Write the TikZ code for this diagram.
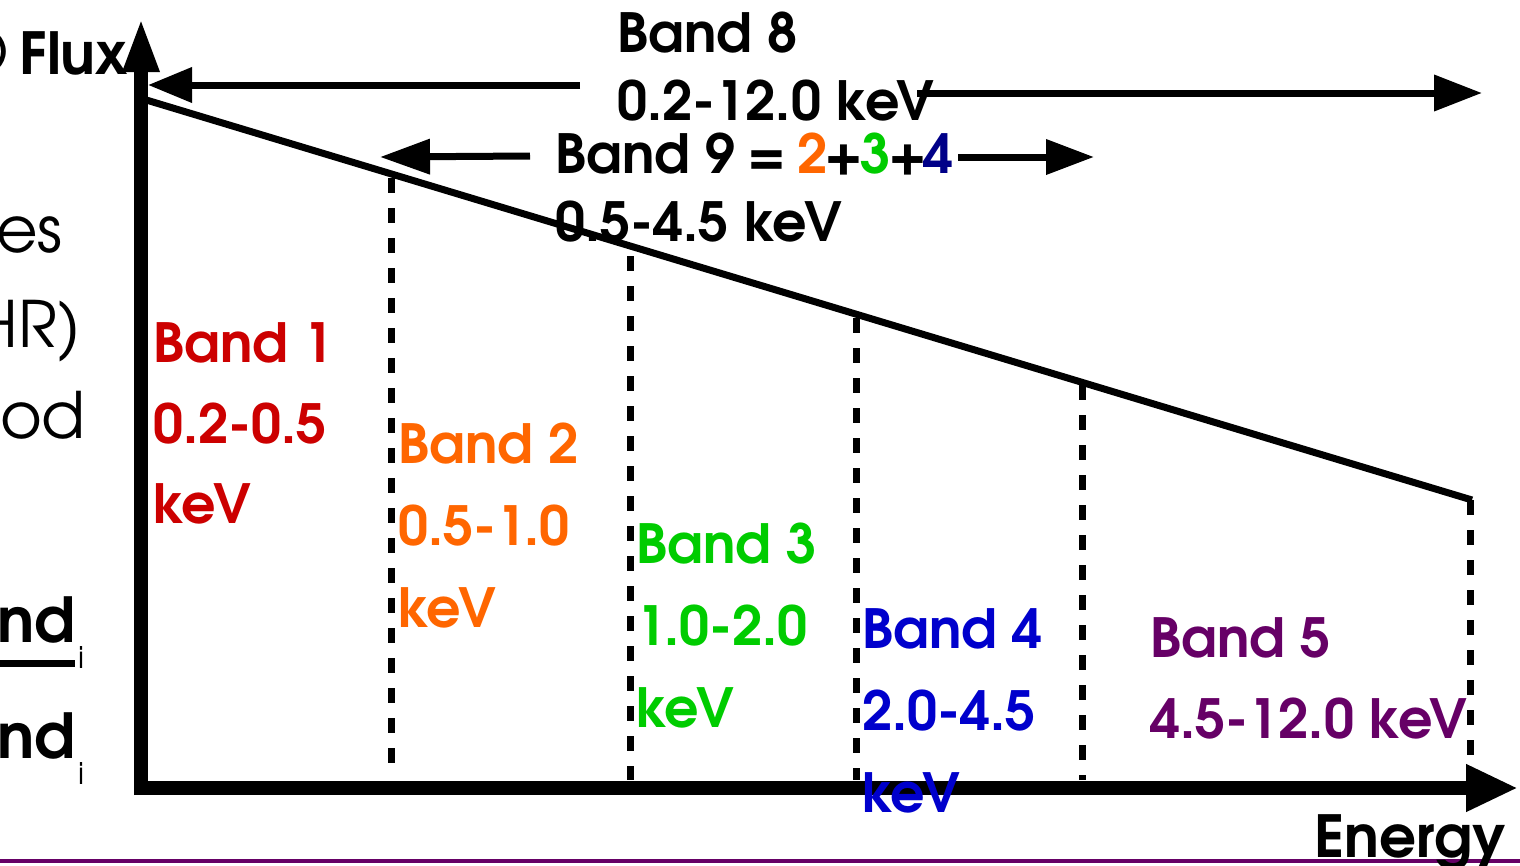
\documentclass[tikz,border=0pt]{standalone}
\usepackage{fontspec}
\setmainfont{TeX Gyre Adventor}
\usetikzlibrary{arrows.meta}
\definecolor{bred}{RGB}{204,0,0}
\definecolor{borange}{RGB}{255,102,0}
\definecolor{bgreen}{RGB}{0,204,0}
\definecolor{bblue}{RGB}{0,0,204}
\definecolor{bnavy}{RGB}{0,0,136}
\definecolor{bpurple}{RGB}{102,0,102}
\tikzset{
  lbl/.style={font=\bfseries\fontsize{54}{60}\selectfont, inner sep=0pt, anchor=base west},
  biglbl/.style={font=\bfseries\fontsize{58}{60}\selectfont, inner sep=0pt, anchor=base west},
  side/.style={font=\fontsize{64}{70}\selectfont, inner sep=0pt, anchor=base east},
  sidebold/.style={font=\bfseries\fontsize{62}{64}\selectfont, inner sep=0pt, anchor=base east},
  subi/.style={font=\fontsize{30}{32}\selectfont, inner sep=0pt, anchor=base west},
  axis/.style={line width=14pt},
  spec/.style={line width=7pt},
  divider/.style={line width=7pt, dash pattern=on 15pt off 15pt},
  rng/.style={line width=7pt},
}
\begin{document}
\begin{tikzpicture}[x=1pt,y=-1pt]
\clip (0,0) rectangle (1520,865);
\fill[white] (0,0) rectangle (1520,865);
% bottom purple rule
\draw[bpurple, line width=4pt] (0,861) -- (1520,861);
% side fragments
\node[side] (o) at (9,75) {O};
\node[biglbl] (flux) at (19,74) {Flux};
\node[side] (es) at (63,252) {es};
\node[side] (hr) at (81,347) {HR)};
\node[side] (od) at (86,438) {od};
\node[sidebold] (nd1) at (76,642) {nd};
\node[subi] (i1) at (78,668) {i};
\draw[line width=7pt] (0,663) -- (75,663);
\node[sidebold] (nd2) at (76,758) {nd};
\node[subi] (i2) at (78,784) {i};
% coordinates
\coordinate (o1) at (141,795);
\coordinate (ytip) at (141,17);
\coordinate (xo) at (134,788);
\coordinate (xtip) at (1518,788);
\coordinate (s0) at (143,99);
\coordinate (s5) at (1472,500);
% dividers
\coordinate (d1t) at (391,178);
\coordinate (d1b) at (391,770);
\coordinate (d2t) at (630,256);
\coordinate (d2b) at (630,780);
\coordinate (d3t) at (856,318);
\coordinate (d3b) at (856,780);
\coordinate (d4t) at (1082,385);
\coordinate (d4b) at (1082,780);
\coordinate (d5t) at (1470,500);
\coordinate (d5b) at (1470,780);
\foreach \n in {1,...,5} \draw[divider] (d\n t) -- (d\n b);
% spectrum line
\draw[spec] (s0) -- (s5);
% axes
\draw[axis, -{Triangle[length=55pt,width=33pt]}] (o1) -- (ytip);
\draw[axis, -{Triangle[length=52pt,width=44pt]}] (xo) -- (xtip);
% Band 8
\node[lbl] (b8) at (617,52) {Band 8};
\node[lbl] (b8r) at (617,120) {0.2-12.0 keV};
\coordinate (b8ls) at (580,85);
\coordinate (b8le) at (148,85);
\coordinate (b8rs) at (917,93);
\coordinate (b8re) at (1482,93);
\draw[rng, -{Triangle[length=44pt,width=34pt]}] (b8ls) -- (b8le);
\draw[rng, -{Triangle[length=48pt,width=35pt]}] (b8rs) -- (b8re);
% Band 9
\node[lbl] (b9) at (555,173) {Band 9\kern-3pt{} =\kern-4pt{} \textcolor{borange}{2}\kern-3pt+\kern-3pt\textcolor{bgreen}{3}\kern-3pt+\kern-3pt\textcolor{bnavy}{4}};
\node[lbl] (b9r) at (555,241) {0.5-4.5 keV};
\coordinate (b9ls) at (530,156);
\coordinate (b9le) at (380,157);
\coordinate (b9rs) at (958,157);
\coordinate (b9re) at (1094,157);
\draw[rng, -{Triangle[length=50pt,width=34pt]}] (b9ls) -- (b9le);
\draw[rng, -{Triangle[length=48pt,width=34pt]}] (b9rs) -- (b9re);
% bands
\node[lbl, bred] (b1a) at (153,362) {Band 1};
\node[lbl, bred] (b1b) at (153,443) {0.2-0.5};
\node[lbl, bred] (b1c) at (153,523) {keV};
\node[lbl, borange] (b2a) at (398,463) {Band 2};
\node[lbl, borange] (b2b) at (398,545) {0.5-1.0};
\node[lbl, borange] (b2c) at (398,627) {keV};
\node[lbl, bgreen] (b3a) at (636,563) {Band 3};
\node[lbl, bgreen] (b3b) at (636,645) {1.0-2.0};
\node[lbl, bgreen] (b3c) at (636,727) {keV};
\node[lbl, bblue] (b4a) at (862,648) {Band 4};
\node[lbl, bblue] (b4b) at (862,730) {2.0-4.5};
\node[lbl, bblue] (b4c) at (862,812) {keV};
\node[lbl, bpurple] (b5a) at (1150,657) {Band 5};
\node[lbl, bpurple] (b5b) at (1150,738) {4.5-12.0 keV};
% axis label
\node[biglbl] (energy) at (1314,857) {Energy};
\end{tikzpicture}
\end{document}
